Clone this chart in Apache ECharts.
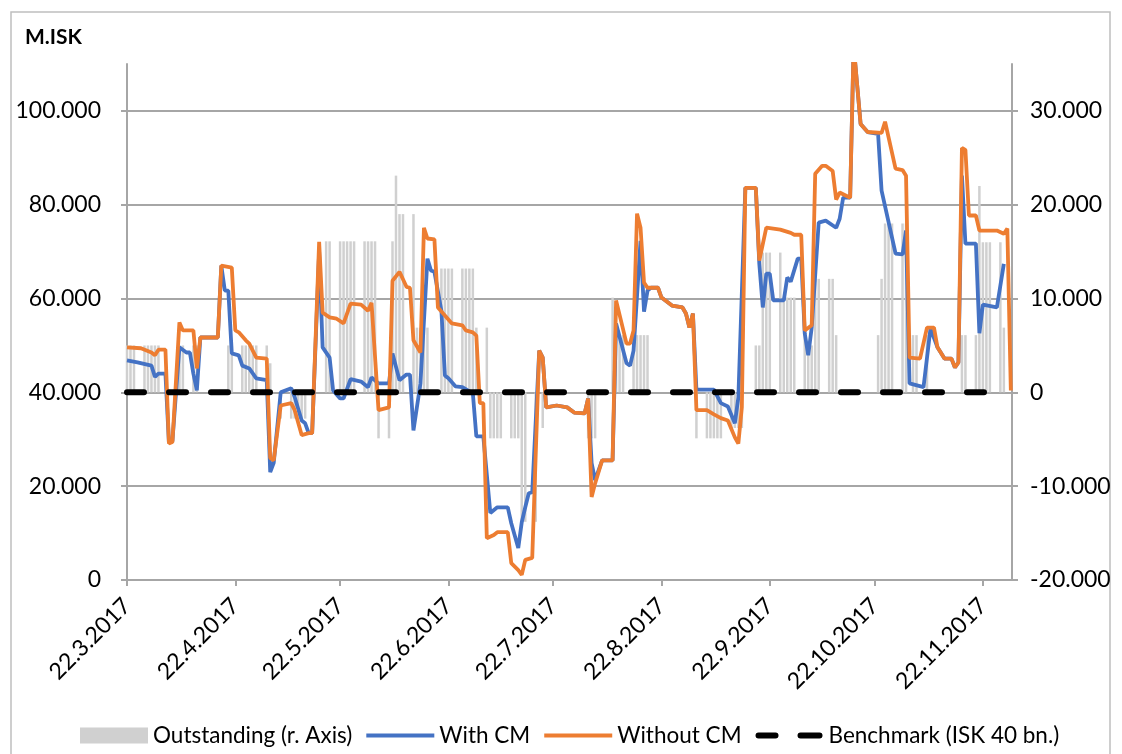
<!DOCTYPE html>
<html>
<head>
<meta charset="utf-8">
<script src="https://cdn.jsdelivr.net/npm/echarts@6/dist/echarts.min.js"></script>
<style>
  html, body { margin: 0; padding: 0; background: #fff; }
  #chart { width: 1122px; height: 754px; }
</style>
</head>
<body>
<div id="chart"></div>
<script>
// values in M.ISK
var withCM = [
  ['2017-03-22', 46800], ['2017-03-25', 46400], ['2017-03-29', 45700], ['2017-03-30', 43300], ['2017-03-31', 44000],
  ['2017-04-02', 44000], ['2017-04-03', 29300], ['2017-04-04', 29600], ['2017-04-06', 49600], ['2017-04-08', 48500],
  ['2017-04-09', 48500], ['2017-04-10', 44000], ['2017-04-11', 40400], ['2017-04-12', 51700], ['2017-04-17', 51700],
  ['2017-04-18', 67000], ['2017-04-19', 61700], ['2017-04-20', 61700], ['2017-04-21', 48300], ['2017-04-23', 47900],
  ['2017-04-24', 45700], ['2017-04-26', 45100], ['2017-04-28', 43000], ['2017-05-01', 42600], ['2017-05-02', 23000],
  ['2017-05-03', 25000], ['2017-05-05', 40000], ['2017-05-08', 40900], ['2017-05-09', 39000], ['2017-05-11', 34000],
  ['2017-05-12', 33400], ['2017-05-13', 31300], ['2017-05-14', 31300], ['2017-05-16', 70000], ['2017-05-17', 49600],
  ['2017-05-19', 47400], ['2017-05-20', 40400], ['2017-05-22', 38700], ['2017-05-23', 38700], ['2017-05-25', 42800],
  ['2017-05-28', 42300], ['2017-05-30', 41100], ['2017-05-31', 43200], ['2017-06-02', 41900], ['2017-06-05', 41900],
  ['2017-06-06', 48300], ['2017-06-08', 42600], ['2017-06-10', 43800], ['2017-06-11', 43800], ['2017-06-12', 31900],
  ['2017-06-14', 41900], ['2017-06-16', 68500], ['2017-06-17', 66000], ['2017-06-18', 65700], ['2017-06-20', 57400],
  ['2017-06-21', 43600], ['2017-06-22', 43000], ['2017-06-24', 41300], ['2017-06-26', 41100], ['2017-06-29', 39800],
  ['2017-06-30', 30600], ['2017-07-02', 30600], ['2017-07-04', 14300], ['2017-07-06', 15500], ['2017-07-09', 15500],
  ['2017-07-10', 12100], ['2017-07-12', 6800], ['2017-07-13', 12300], ['2017-07-14', 15500], ['2017-07-15', 18500],
  ['2017-07-16', 18700], ['2017-07-18', 48900], ['2017-07-19', 47400], ['2017-07-20', 36800], ['2017-07-23', 37200],
  ['2017-07-26', 36800], ['2017-07-28', 35700], ['2017-07-31', 35500], ['2017-08-01', 38700], ['2017-08-02', 24900],
  ['2017-08-03', 21300], ['2017-08-05', 25500], ['2017-08-08', 25500], ['2017-08-09', 54700], ['2017-08-12', 46200],
  ['2017-08-13', 45700], ['2017-08-14', 48900], ['2017-08-16', 72300], ['2017-08-17', 57200], ['2017-08-18', 61700],
  ['2017-08-19', 62300], ['2017-08-21', 62300], ['2017-08-22', 60200], ['2017-08-25', 58500], ['2017-08-28', 58100],
  ['2017-08-29', 56800], ['2017-08-30', 53800], ['2017-08-31', 56800], ['2017-09-01', 40600], ['2017-09-06', 40600],
  ['2017-09-08', 37700], ['2017-09-10', 37000], ['2017-09-12', 33400], ['2017-09-13', 38900], ['2017-09-15', 83600],
  ['2017-09-18', 83600], ['2017-09-19', 67400], ['2017-09-20', 58100], ['2017-09-21', 65300], ['2017-09-22', 65300],
  ['2017-09-23', 59600], ['2017-09-26', 59600], ['2017-09-27', 64500], ['2017-09-28', 63600], ['2017-09-30', 68500],
  ['2017-10-01', 68500], ['2017-10-02', 52600], ['2017-10-03', 47900], ['2017-10-04', 53800], ['2017-10-06', 76200],
  ['2017-10-08', 76600], ['2017-10-11', 75100], ['2017-10-12', 77000], ['2017-10-13', 81500], ['2017-10-15', 81500],
  ['2017-10-16', 114000], ['2017-10-18', 97200], ['2017-10-20', 95500], ['2017-10-23', 95100], ['2017-10-24', 83000],
  ['2017-10-28', 69600], ['2017-10-30', 69400], ['2017-10-31', 74500], ['2017-11-01', 41900], ['2017-11-05', 41100],
  ['2017-11-07', 53600], ['2017-11-09', 49600], ['2017-11-11', 47200], ['2017-11-13', 47200], ['2017-11-14', 45300],
  ['2017-11-15', 46400], ['2017-11-16', 86200], ['2017-11-17', 71700], ['2017-11-20', 71700], ['2017-11-21', 52600],
  ['2017-11-22', 58700], ['2017-11-26', 58100], ['2017-11-28', 67400]
];

var withoutCM = [
  ['2017-03-22', 49600], ['2017-03-26', 49400], ['2017-03-29', 48500], ['2017-03-30', 47900], ['2017-03-31', 49100],
  ['2017-04-02', 49100], ['2017-04-03', 29100], ['2017-04-04', 29400], ['2017-04-06', 54900], ['2017-04-07', 53200],
  ['2017-04-10', 53200], ['2017-04-11', 45100], ['2017-04-12', 51700], ['2017-04-17', 51700], ['2017-04-18', 67000],
  ['2017-04-21', 66600], ['2017-04-22', 53200], ['2017-04-23', 52800], ['2017-04-25', 51100], ['2017-04-26', 50400],
  ['2017-04-28', 47400], ['2017-05-01', 47200], ['2017-05-02', 26000], ['2017-05-03', 25500], ['2017-05-05', 37200],
  ['2017-05-08', 37700], ['2017-05-09', 36200], ['2017-05-11', 30900], ['2017-05-13', 31300], ['2017-05-14', 31300],
  ['2017-05-16', 72100], ['2017-05-17', 57000], ['2017-05-19', 56000], ['2017-05-21', 55700], ['2017-05-23', 54700],
  ['2017-05-25', 58900], ['2017-05-28', 58700], ['2017-05-30', 57400], ['2017-05-31', 59100], ['2017-06-02', 36200],
  ['2017-06-05', 36800], ['2017-06-06', 63800], ['2017-06-08', 65700], ['2017-06-10', 62500], ['2017-06-11', 62300],
  ['2017-06-12', 51100], ['2017-06-14', 48500], ['2017-06-15', 75100], ['2017-06-16', 72800], ['2017-06-18', 72600],
  ['2017-06-19', 58100], ['2017-06-21', 56400], ['2017-06-23', 54700], ['2017-06-26', 54300], ['2017-06-27', 53200],
  ['2017-06-29', 52800], ['2017-06-30', 52100], ['2017-07-01', 37700], ['2017-07-02', 37700], ['2017-07-03', 8900],
  ['2017-07-05', 9600], ['2017-07-06', 10200], ['2017-07-09', 10200], ['2017-07-10', 3600], ['2017-07-12', 2100],
  ['2017-07-13', 1100], ['2017-07-14', 4300], ['2017-07-16', 4700], ['2017-07-18', 48900], ['2017-07-19', 47400],
  ['2017-07-20', 36800], ['2017-07-23', 37200], ['2017-07-26', 36800], ['2017-07-28', 35700], ['2017-07-31', 35500],
  ['2017-08-01', 38700], ['2017-08-02', 17700], ['2017-08-03', 20600], ['2017-08-05', 25500], ['2017-08-08', 25500],
  ['2017-08-09', 59600], ['2017-08-12', 50400], ['2017-08-13', 50400], ['2017-08-14', 53200], ['2017-08-15', 78100],
  ['2017-08-16', 75100], ['2017-08-17', 63400], ['2017-08-18', 62300], ['2017-08-21', 62300], ['2017-08-22', 60200],
  ['2017-08-25', 58500], ['2017-08-28', 58100], ['2017-08-29', 56800], ['2017-08-30', 53800], ['2017-08-31', 56800],
  ['2017-09-01', 36200], ['2017-09-04', 36200], ['2017-09-06', 35300], ['2017-09-08', 34500], ['2017-09-10', 34000],
  ['2017-09-12', 30400], ['2017-09-13', 29100], ['2017-09-14', 36800], ['2017-09-15', 83600], ['2017-09-18', 83600],
  ['2017-09-19', 68100], ['2017-09-21', 75100], ['2017-09-25', 74700], ['2017-09-28', 74000], ['2017-09-29', 73600],
  ['2017-10-01', 73600], ['2017-10-02', 53200], ['2017-10-04', 54300], ['2017-10-05', 86600], ['2017-10-07', 88300],
  ['2017-10-08', 88300], ['2017-10-10', 87200], ['2017-10-11', 81100], ['2017-10-12', 82600], ['2017-10-15', 81500],
  ['2017-10-16', 114000], ['2017-10-18', 97200], ['2017-10-20', 95500], ['2017-10-24', 95300], ['2017-10-25', 97700],
  ['2017-10-28', 87700], ['2017-10-30', 87400], ['2017-10-31', 86200], ['2017-11-01', 47400], ['2017-11-04', 47200],
  ['2017-11-06', 53800], ['2017-11-08', 53800], ['2017-11-09', 49600], ['2017-11-11', 47200], ['2017-11-13', 47200],
  ['2017-11-14', 45300], ['2017-11-15', 46400], ['2017-11-16', 92100], ['2017-11-17', 91700], ['2017-11-18', 77700],
  ['2017-11-20', 77700], ['2017-11-21', 74500], ['2017-11-26', 74500], ['2017-11-28', 73800], ['2017-11-29', 74900],
  ['2017-11-30', 40400]
];

var benchmark = [['2017-03-22', 40000], ['2017-11-28', 40000]];

// outstanding (right axis): [first day, last day, value], one bar per business day
var outstandingRuns = [
  ['2017-03-22', '2017-03-31', 5000], ['2017-04-06', '2017-04-11', 5000], ['2017-04-20', '2017-05-01', 5000],
  ['2017-05-02', '2017-05-02', 3100], ['2017-05-05', '2017-05-12', -2800], ['2017-05-18', '2017-06-01', 16100],
  ['2017-06-02', '2017-06-05', -4900], ['2017-06-06', '2017-06-06', 16100], ['2017-06-07', '2017-06-07', 23100],
  ['2017-06-08', '2017-06-12', 19000], ['2017-06-13', '2017-06-16', 6900], ['2017-06-20', '2017-06-29', 13200],
  ['2017-06-30', '2017-07-03', 6900], ['2017-07-04', '2017-07-12', -4900], ['2017-07-13', '2017-07-17', -13800],
  ['2017-07-19', '2017-07-19', -3800], ['2017-08-01', '2017-08-03', -4900], ['2017-08-08', '2017-08-08', 10100],
  ['2017-08-09', '2017-08-18', 6100], ['2017-09-01', '2017-09-08', -4900], ['2017-09-11', '2017-09-14', -3800],
  ['2017-09-18', '2017-09-19', 5000], ['2017-09-20', '2017-09-25', 14900], ['2017-09-26', '2017-10-02', 10100],
  ['2017-10-03', '2017-10-04', 5000], ['2017-10-05', '2017-10-10', 12100], ['2017-10-11', '2017-10-11', 6100],
  ['2017-10-23', '2017-10-23', 6100], ['2017-10-24', '2017-10-24', 12100], ['2017-10-25', '2017-10-31', 18000],
  ['2017-11-02', '2017-11-06', 6100], ['2017-11-16', '2017-11-20', 6100], ['2017-11-21', '2017-11-21', 22000],
  ['2017-11-22', '2017-11-27', 16000], ['2017-11-28', '2017-11-28', 6900]
];

var tickDates = ['2017-03-22', '2017-04-22', '2017-05-22', '2017-06-22', '2017-07-22',
                 '2017-08-22', '2017-09-22', '2017-10-22', '2017-11-22'];

function parseDay(s) {
  var p = s.split(/[- :]/);
  return new Date(+p[0], +p[1] - 1, +p[2], +(p[3] || 0));
}
function ts(s) { return parseDay(s).getTime(); }
function toPoints(arr) { return arr.map(function (p) { return [ts(p[0]), p[1]]; }); }

var outstanding = [];
outstandingRuns.forEach(function (r) {
  var d = parseDay(r[0]), end = parseDay(r[1]);
  while (d <= end) {
    if (d.getDay() !== 0 && d.getDay() !== 6) outstanding.push([d.getTime(), r[2]]);
    d = new Date(d.getFullYear(), d.getMonth(), d.getDate() + 1);
  }
});
var tickValues = tickDates.map(ts);

function fmt(v) {
  if (v === 0) return '0';
  var s = Math.abs(v).toFixed(0).replace(/\B(?=(\d{3})+(?!\d))/g, '.');
  return (v < 0 ? '-' : '') + s;
}

// legend icons: corner stubs keep the 68x16 box so the shapes are not stretched
var box = 'M0,0L0.01,0M68,16L67.99,16';
var lineIcon = 'path://' + box + 'M0,6L68,6L68,10L0,10Z';
var dashIcon = 'path://' + box +
  'M3,5L20,5A3,3,0,0,1,20,11L3,11A3,3,0,0,1,3,5Z' +
  'M45,5L64,5A3,3,0,0,1,64,11L45,11A3,3,0,0,1,45,5Z';

var FONT = 'Lato';
var grey = '#a6a6a6';
var chart = echarts.init(document.getElementById('chart'));
chart.setOption({
  animation: false,
  backgroundColor: '#fff',
  textStyle: { fontFamily: FONT },
  graphic: [
    { type: 'rect', shape: { x: 11, y: 12, width: 1099, height: 760 }, style: { fill: 'none', stroke: '#bfbfbf', lineWidth: 1.5 }, silent: true },
    { type: 'text', x: 25, y: 37, style: { text: 'M.ISK', font: 'bold 21px ' + FONT, fill: '#000', verticalAlign: 'middle' } }
  ],
  grid: { left: 127, right: 110, top: 64, bottom: 174 },
  legend: {
    left: 80, top: 724, padding: 0, itemWidth: 68, itemHeight: 16, itemGap: 14,
    textStyle: { fontSize: 22.5, color: '#000', fontFamily: FONT },
    data: [
      { name: 'Outstanding (r. Axis)', icon: 'rect' },
      { name: 'With CM', icon: lineIcon },
      { name: 'Without CM', icon: lineIcon },
      { name: 'Benchmark (ISK 40 bn.)', icon: dashIcon }
    ]
  },
  xAxis: {
    type: 'value',
    min: ts('2017-03-22'),
    max: ts('2017-11-30 08'),
    axisLine: { onZero: false, lineStyle: { color: grey, width: 2 } },
    axisTick: { show: true, length: 6, lineStyle: { color: grey, width: 2 }, customValues: tickValues },
    splitLine: { show: false },
    axisLabel: {
      customValues: tickValues, rotate: 45, margin: 22,
      fontSize: 23, color: '#000', fontFamily: FONT,
      formatter: function (v) {
        var d = new Date(v);
        return d.getDate() + '.' + (d.getMonth() + 1) + '.' + d.getFullYear();
      }
    }
  },
  yAxis: [
    {
      type: 'value', min: 0, max: 110000, interval: 20000,
      axisLine: { show: true, lineStyle: { color: grey, width: 2 } },
      axisTick: { show: true, length: 6, lineStyle: { color: grey, width: 2 } },
      splitLine: { show: true, showMaxLine: false, lineStyle: { color: grey, width: 2 } },
      axisLabel: { showMaxLabel: false, margin: 26, fontSize: 23, color: '#000', fontFamily: FONT, formatter: fmt }
    },
    {
      type: 'value', min: -20000, max: 35000, interval: 10000,
      axisLine: { show: true, lineStyle: { color: grey, width: 2 } },
      axisTick: { show: true, length: 6, lineStyle: { color: grey, width: 2 } },
      splitLine: { show: false },
      axisLabel: { showMaxLabel: false, margin: 18, fontSize: 23, color: '#000', fontFamily: FONT, formatter: fmt }
    }
  ],
  series: [
    {
      name: 'Outstanding (r. Axis)', type: 'bar', yAxisIndex: 1, data: outstanding,
      barWidth: 2.5, itemStyle: { color: '#d0d0d0' }
    },
    {
      name: 'With CM', type: 'line', data: toPoints(withCM), symbol: 'none',
      lineStyle: { color: '#4472c4', width: 3.8 }, itemStyle: { color: '#4472c4' }
    },
    {
      name: 'Without CM', type: 'line', data: toPoints(withoutCM), symbol: 'none',
      lineStyle: { color: '#ed7d31', width: 3.8 }, itemStyle: { color: '#ed7d31' }
    },
    {
      name: 'Benchmark (ISK 40 bn.)', type: 'line', data: toPoints(benchmark), symbol: 'none',
      lineStyle: { color: '#000', width: 6, type: [17, 25], cap: 'round' }, itemStyle: { color: '#000' }
    }
  ]
});
</script>
</body>
</html>
